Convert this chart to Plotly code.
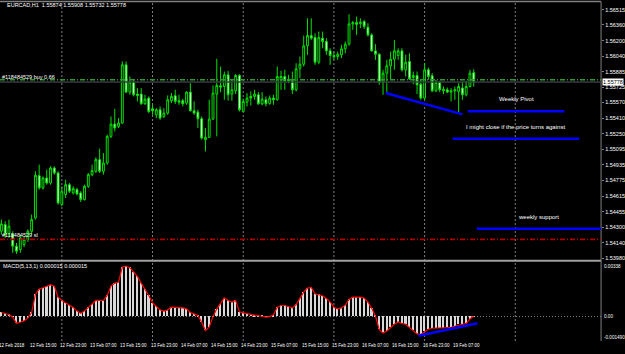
import plotly.graph_objects as go
import pandas as pd

# ---------------- data ----------------
header_text = "EURCAD,H1  1.55874 1.55908 1.55732 1.55778"
macd_title = "MACD(5,13,1) 0.000015 0.000015"

opens = [1.54259, 1.54327, 1.54232, 1.54225, 1.54106, 1.54072, 1.54123, 1.54174, 1.54259, 1.54394,
         1.54825, 1.54700, 1.54801, 1.54750, 1.54903, 1.54852, 1.54530, 1.54632, 1.54733, 1.54649,
         1.54683, 1.54649, 1.54581, 1.54716, 1.54835, 1.54869, 1.54988, 1.54869, 1.54954, 1.55225,
         1.55350, 1.55327, 1.55361, 1.55954, 1.55676, 1.55778, 1.55656, 1.55656, 1.55557, 1.55615,
         1.55506, 1.55445, 1.55496, 1.55428, 1.55462, 1.55588, 1.55639, 1.55588, 1.55588, 1.55564,
         1.55676, 1.55486, 1.55472, 1.55405, 1.55191, 1.55215, 1.55401, 1.55656, 1.55740, 1.55733,
         1.55852, 1.55656, 1.55689, 1.55845, 1.55479, 1.55574, 1.55632, 1.55632, 1.55649, 1.55557,
         1.55598, 1.55561, 1.55615, 1.55598, 1.55801, 1.55835, 1.55791, 1.55791, 1.55700, 1.55920,
         1.55960, 1.56147, 1.56252, 1.56232, 1.55981, 1.56225, 1.56191, 1.56096, 1.56049, 1.56039,
         1.56056, 1.56117, 1.56164, 1.56371, 1.56384, 1.56374, 1.56395, 1.56337, 1.56259, 1.56096,
         1.56062, 1.55778, 1.55869, 1.55944, 1.56011, 1.56049, 1.56096, 1.55903, 1.55988, 1.55825,
         1.55845, 1.55757, 1.55615, 1.55903, 1.55842, 1.55689, 1.55774, 1.55689, 1.55700, 1.55676,
         1.55689, 1.55683, 1.55717, 1.55649, 1.55733, 1.55874]
highs = [1.54377, 1.54361, 1.54377, 1.54259, 1.54140, 1.54225, 1.54208, 1.54276, 1.54428, 1.54869,
         1.54937, 1.54818, 1.54886, 1.54920, 1.54920, 1.54869, 1.54716, 1.54784, 1.54750, 1.54716,
         1.54700, 1.54666, 1.54733, 1.54852, 1.54937, 1.55011, 1.55100, 1.55055, 1.55242, 1.55428,
         1.55506, 1.55411, 1.55988, 1.55988, 1.55835, 1.55801, 1.55717, 1.55717, 1.55649, 1.55632,
         1.55547, 1.55513, 1.55530, 1.55513, 1.55642, 1.55666, 1.55700, 1.55649, 1.55608, 1.55683,
         1.55767, 1.55581, 1.55496, 1.55428, 1.55310, 1.55598, 1.55744, 1.56015, 1.55937, 1.55886,
         1.55893, 1.55801, 1.55859, 1.55859, 1.55608, 1.55666, 1.55683, 1.55700, 1.55676, 1.55676,
         1.55632, 1.55642, 1.55649, 1.55937, 1.55893, 1.55903, 1.55852, 1.55886, 1.55971, 1.56038,
         1.56252, 1.56428, 1.56428, 1.56276, 1.56293, 1.56293, 1.56225, 1.56123, 1.56089, 1.56089,
         1.56157, 1.56191, 1.56469, 1.56401, 1.56445, 1.56428, 1.56411, 1.56378, 1.56276, 1.56164,
         1.56072, 1.55903, 1.56005, 1.56089, 1.56208, 1.56123, 1.56123, 1.56056, 1.56072, 1.55886,
         1.55886, 1.55801, 1.55971, 1.55927, 1.55869, 1.55801, 1.55791, 1.55733, 1.55723, 1.55717,
         1.55733, 1.55767, 1.55784, 1.55791, 1.55903, 1.55908]
lows = [1.54225, 1.54191, 1.54191, 1.54038, 1.54028, 1.54038, 1.54096, 1.54150, 1.54225, 1.54377,
        1.54683, 1.54683, 1.54733, 1.54733, 1.54835, 1.54530, 1.54513, 1.54598, 1.54649, 1.54632,
        1.54625, 1.54557, 1.54571, 1.54700, 1.54818, 1.54852, 1.54852, 1.54835, 1.54937, 1.55208,
        1.55276, 1.55310, 1.55350, 1.55666, 1.55649, 1.55632, 1.55581, 1.55547, 1.55547, 1.55462,
        1.55445, 1.55411, 1.55394, 1.55411, 1.55445, 1.55564, 1.55554, 1.55547, 1.55530, 1.55547,
        1.55479, 1.55445, 1.55310, 1.55191, 1.55072, 1.55208, 1.55394, 1.55225, 1.55676, 1.55598,
        1.55588, 1.55588, 1.55656, 1.55479, 1.55472, 1.55530, 1.55540, 1.55598, 1.55547, 1.55540,
        1.55530, 1.55547, 1.55547, 1.55588, 1.55700, 1.55700, 1.55767, 1.55656, 1.55683, 1.55818,
        1.55937, 1.56056, 1.56208, 1.55954, 1.55961, 1.56123, 1.56056, 1.55954, 1.56005, 1.56005,
        1.56022, 1.56072, 1.56150, 1.56310, 1.56259, 1.56327, 1.56320, 1.56242, 1.56089, 1.56005,
        1.55750, 1.55649, 1.55666, 1.55801, 1.55903, 1.56005, 1.55886, 1.55835, 1.55801, 1.55757,
        1.55656, 1.55598, 1.55598, 1.55801, 1.55676, 1.55676, 1.55676, 1.55656, 1.55666, 1.55581,
        1.55598, 1.55462, 1.55598, 1.55632, 1.55723, 1.55732]
closes = [1.54333, 1.54225, 1.54310, 1.54106, 1.54055, 1.54191, 1.54174, 1.54259, 1.54377, 1.54828,
          1.54700, 1.54801, 1.54750, 1.54903, 1.54852, 1.54547, 1.54666, 1.54733, 1.54666, 1.54693,
          1.54638, 1.54581, 1.54716, 1.54835, 1.54876, 1.54988, 1.54869, 1.54954, 1.55225, 1.55350,
          1.55310, 1.55361, 1.55954, 1.55676, 1.55778, 1.55649, 1.55642, 1.55557, 1.55605, 1.55479,
          1.55486, 1.55496, 1.55411, 1.55462, 1.55598, 1.55632, 1.55581, 1.55574, 1.55557, 1.55676,
          1.55486, 1.55462, 1.55405, 1.55208, 1.55215, 1.55401, 1.55666, 1.55744, 1.55727, 1.55852,
          1.55649, 1.55700, 1.55845, 1.55496, 1.55581, 1.55615, 1.55615, 1.55656, 1.55557, 1.55605,
          1.55557, 1.55615, 1.55598, 1.55835, 1.55835, 1.55791, 1.55801, 1.55700, 1.55913, 1.55960,
          1.56147, 1.56252, 1.56225, 1.55981, 1.56232, 1.56191, 1.56096, 1.56049, 1.56035, 1.56062,
          1.56117, 1.56164, 1.56371, 1.56384, 1.56367, 1.56388, 1.56344, 1.56259, 1.56096, 1.56062,
          1.55778, 1.55869, 1.55944, 1.56011, 1.56096, 1.56096, 1.55903, 1.55981, 1.55811, 1.55845,
          1.55750, 1.55615, 1.55903, 1.55835, 1.55689, 1.55774, 1.55700, 1.55706, 1.55676, 1.55689,
          1.55700, 1.55733, 1.55649, 1.55733, 1.55869, 1.55778]
macd = [0.000255, 0.000191, 0.000127, -0.000042, -0.000424, -0.000361, -0.000276, -0.000085, 0.000255, 0.001401,
        0.001740, 0.001825, 0.001910, 0.002016, 0.001931, 0.001231, 0.001019, 0.000870, 0.000721, 0.000573,
        0.000361, 0.000212, 0.000361, 0.000594, 0.000764, 0.001019, 0.001019, 0.001019, 0.001337, 0.001931,
        0.002122, 0.002186, 0.003141, 0.003204, 0.003098, 0.002801, 0.002546, 0.002122, 0.001761, 0.001337,
        0.000870, 0.000658, 0.000424, 0.000340, 0.000424, 0.000594, 0.000594, 0.000552, 0.000552, 0.000488,
        0.000255, 0.000170, 0.000064, -0.000361, -0.000891, -0.000679, 0.000010, 0.000488, 0.000806, 0.001188,
        0.001019, 0.000912, 0.001019, 0.000297, 0.000233, 0.000170, 0.000127, 0.000085, 0.000064, 0.000021,
        -0.000042, -0.000005, 0.000106, 0.000594, 0.000700, 0.000700, 0.000637, 0.000552, 0.000764, 0.001188,
        0.001549, 0.001804, 0.001846, 0.001443, 0.001401, 0.001316, 0.001146, 0.000934, 0.000594, 0.000488,
        0.000552, 0.000721, 0.001082, 0.001231, 0.001231, 0.001231, 0.001167, 0.000912, 0.000531, 0.000021,
        -0.000828, -0.001040, -0.000912, -0.000679, -0.000488, -0.000340, -0.000446, -0.000488, -0.000679, -0.000891,
        -0.001103, -0.001146, -0.000955, -0.000806, -0.000743, -0.000743, -0.000721, -0.000721, -0.000700, -0.000679,
        -0.000615, -0.000509, -0.000488, -0.000446, -0.000149, 0.000015]

bar_times = (list(pd.date_range("2018-02-12 07:00", "2018-02-16 23:00", freq="h")) +
             list(pd.date_range("2018-02-19 00:00", "2018-02-19 12:00", freq="h")))
idx = list(range(len(bar_times)))

price_ticks = [1.56515, 1.56360, 1.56200, 1.56040, 1.55885, 1.55725, 1.55570, 1.55410, 1.55250,
               1.55095, 1.54935, 1.54775, 1.54615, 1.54455, 1.54300, 1.54140, 1.53980]
macd_ticks = [0.00338, 0.0, -0.00149]
macd_tick_text = ["0.00338", "0.00", "-0.001490"]

buy_level = 1.55802
sl_level = 1.54176
bid_level = 1.55778
order_id = "#118484529"

# user-drawn objects (bar-index, price)
trend_price = [(101.7, 1.55667), (122.0, 1.55449)]
trend_macd = [(110.4, -0.001216), (126.0, -0.000427)]
pivot_line = [(123.4, 149.0), 1.55480, "Weekly Pivot"]
close_line = [(119.4, 152.9), 1.55202, "I might close if the price turns against"]
support_line = [(125.8, 158.7), 1.54285, "weekly support"]

# ---------------- figure ----------------
W, H = 625, 354
FONT = "Liberation Sans"
GREEN = "#00E000"
GRAY = "#808080"
xr = [-0.37, 158.7]
xdom_end = 603 / W


def py(px):
    return 1 - px / H


fig = go.Figure()
fig.add_trace(go.Candlestick(
    x=idx, open=opens, high=highs, low=lows, close=closes,
    increasing=dict(line=dict(color=GREEN, width=1), fillcolor="black"),
    decreasing=dict(line=dict(color=GREEN, width=1), fillcolor="white"),
    whiskerwidth=0, xaxis="x", yaxis="y", hoverinfo="skip", showlegend=False))
fig.add_trace(go.Bar(x=idx, y=macd, width=0.42, marker=dict(color="#D8D8D8", line=dict(width=0)),
                     xaxis="x", yaxis="y2", showlegend=False, hoverinfo="skip"))
fig.add_trace(go.Scatter(x=idx, y=macd, mode="lines", line=dict(color="#FF0000", width=1.2),
                         xaxis="x", yaxis="y2", showlegend=False, hoverinfo="skip"))

shapes = []
# borders
shapes.append(dict(type="line", xref="paper", yref="paper", x0=0, x1=xdom_end, y0=py(1.5), y1=py(1.5),
                   line=dict(color=GRAY, width=1.5)))
shapes.append(dict(type="line", xref="paper", yref="paper", x0=0, x1=xdom_end, y0=py(261.5), y1=py(261.5),
                   line=dict(color="#A0A0A0", width=2)))
shapes.append(dict(type="line", xref="paper", yref="paper", x0=xdom_end, x1=xdom_end, y0=py(1.5), y1=py(342),
                   line=dict(color=GRAY, width=1)))
# vertical dotted grid (every 24 bars at 23:00)
for gi in [16, 40, 64, 88, 112, 136]:
    shapes.append(dict(type="line", xref="x", yref="paper", x0=gi, x1=gi, y0=py(342), y1=py(2),
                       line=dict(color=GRAY, width=1, dash="2px,2px"), layer="below"))
# macd zero level
shapes.append(dict(type="line", xref="paper", yref="y2", x0=0, x1=xdom_end, y0=0, y1=0,
                   line=dict(color=GRAY, width=1, dash="1px,2px"), layer="below"))
# order lines
shapes.append(dict(type="line", xref="paper", yref="y", x0=0, x1=xdom_end, y0=bid_level, y1=bid_level,
                   line=dict(color="#3A3A44", width=1.5)))
shapes.append(dict(type="line", xref="paper", yref="y", x0=0, x1=xdom_end, y0=buy_level, y1=buy_level,
                   line=dict(color="#2E9A2E", width=1.6, dash="5px,2px,1px,2px")))
shapes.append(dict(type="line", xref="paper", yref="y", x0=0, x1=xdom_end, y0=sl_level, y1=sl_level,
                   line=dict(color="#B00000", width=1.6, dash="5px,2px,1px,2px")))
# blue drawings
BLUE = "#0000FF"
shapes.append(dict(type="line", xref="x", yref="y", x0=trend_price[0][0], y0=trend_price[0][1],
                   x1=trend_price[1][0], y1=trend_price[1][1], line=dict(color=BLUE, width=2.5)))
shapes.append(dict(type="line", xref="x", yref="y2", x0=trend_macd[0][0], y0=trend_macd[0][1],
                   x1=trend_macd[1][0], y1=trend_macd[1][1], line=dict(color=BLUE, width=2.5)))
annotations = []
for (xa, xb), lvl, txt in [pivot_line, close_line, support_line]:
    shapes.append(dict(type="line", xref="x", yref="y", x0=xa, x1=xb, y0=lvl, y1=lvl,
                       line=dict(color=BLUE, width=2.5)))
    annotations.append(dict(x=(xa + xb) / 2, y=lvl, xref="x", yref="y", text=txt, showarrow=False,
                            yshift=7, yanchor="bottom", font=dict(family=FONT, size=6, color="white")))

TXT = dict(family=FONT, size=5.5, color="white")
annotations.append(dict(x=5 / W, y=py(5.5), xref="paper", yref="paper", text=header_text, showarrow=False,
                        xanchor="left", yanchor="middle", font=TXT))
annotations.append(dict(x=0, y=py(77), xref="paper", yref="paper", text=order_id + " buy 0.66",
                        showarrow=False, xanchor="left", yanchor="middle", font=TXT))
annotations.append(dict(x=0, y=py(236), xref="paper", yref="paper", text=order_id + " sl",
                        showarrow=False, xanchor="left", yanchor="middle", font=TXT))
annotations.append(dict(x=1 / W, y=py(267), xref="paper", yref="paper", text=macd_title,
                        showarrow=False, xanchor="left", yanchor="middle", font=TXT))
# current price box
annotations.append(dict(x=603.5 / W, y=bid_level, xref="paper", yref="y", text="1.55778", showarrow=False,
                        xanchor="left", yanchor="middle", bgcolor="white", borderpad=0,
                        font=dict(family=FONT, size=5.5, color="black")))
# macd scale labels
for v, t in zip(macd_ticks, macd_tick_text):
    annotations.append(dict(x=603.5 / W, y=v, xref="paper", yref="y2", text=t, showarrow=False,
                            xanchor="left", yanchor="middle", font=dict(family=FONT, size=4.6, color="white"),
                            yshift=(-3 if v > 0.003 else (3 if v < 0 else 0))))
# time labels
for i in range(0, len(bar_times), 8):
    t = bar_times[i]
    lab = f"{t.day} {t.strftime('%b')} {t.year}" if i == 0 else f"{t.day} {t.strftime('%b %H:%M')}"
    annotations.append(dict(x=i, y=py(346), xref="x", yref="paper", text=lab, showarrow=False,
                            xanchor="left", yanchor="middle", xshift=-4,
                            font=dict(family=FONT, size=4.5, color="white")))

fig.update_layout(
    width=W, height=H, margin=dict(l=0, r=0, t=0, b=0),
    paper_bgcolor="black", plot_bgcolor="black",
    showlegend=False, bargap=0,
    xaxis=dict(domain=[0, xdom_end], range=xr, showgrid=False, zeroline=False, showticklabels=False,
               anchor="y2", rangeslider=dict(visible=False), fixedrange=True),
    yaxis=dict(domain=[py(261), py(3)], range=[1.539627, 1.565840], side="right", anchor="x",
               tickvals=price_ticks, ticktext=[f"{v:.5f}" for v in price_ticks],
               tickfont=dict(family=FONT, size=5.5, color="white"), ticks="outside", ticklen=2,
               tickcolor=GRAY, showgrid=False, zeroline=False, showline=False),
    yaxis2=dict(domain=[py(341), py(264)], range=[-0.00149, 0.00338], side="right", anchor="x",
                showticklabels=False, showgrid=False, zeroline=False, showline=False),
    shapes=shapes, annotations=annotations,
)

fig.write_html("out.html")
